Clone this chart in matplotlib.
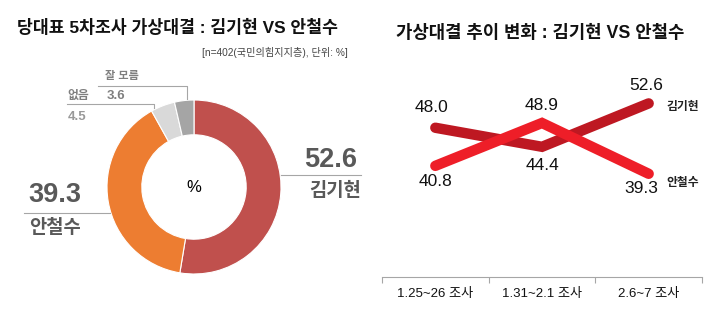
import matplotlib.pyplot as plt

plt.rcParams['font.family'] = ['Liberation Sans', 'Noto Sans CJK KR', 'DejaVu Sans']

# donut: 5th survey head-to-head
pie_labels = ['김기현', '안철수', '없음', '잘 모름']
pie_values = [52.6, 39.3, 4.5, 3.6]
pie_colors = ['#C0504D', '#ED7D31', '#D9D9D9', '#A5A5A5']

# trend across surveys
surveys = ['1.25~26 조사', '1.31~2.1 조사', '2.6~7 조사']
kim = [48.0, 44.4, 52.6]
ahn = [40.8, 48.9, 39.3]

W, H = 720, 328
fig = plt.figure(figsize=(W / 100, H / 100), dpi=100)

# ---- left: donut ----
cx, cy, r = 194, 187, 87
ax1 = fig.add_axes([(cx - 100) / W, (H - cy - 100) / H, 200 / W, 200 / H])
ax1.pie(pie_values, colors=pie_colors, startangle=90, counterclock=False,
        radius=1, wedgeprops=dict(width=0.4, edgecolor='white', linewidth=0.8))
ax1.set_xlim(-100 / r, 100 / r)
ax1.set_ylim(-100 / r, 100 / r)
ax1.set_aspect('equal')
ax1.axis('off')
ax1.text(0, 0, '%', ha='center', va='center', fontsize=12, color='black')

grey = '#595959'
lc = '#A6A6A6'
# 김기현
ax1.text(1.26, 0.31, f'{pie_values[0]:.1f}', ha='left', va='center',
         fontsize=19.5, fontweight='bold', color=grey, clip_on=False)
ax1.plot([1.0, 1.92], [0.14, 0.14], color=lc, lw=0.8, clip_on=False)
ax1.text(1.32, -0.04, pie_labels[0], ha='left', va='center',
         fontsize=13.5, fontweight='bold', color=grey, clip_on=False)
# 안철수
ax1.text(-1.90, -0.09, f'{pie_values[1]:.1f}', ha='left', va='center',
         fontsize=19.5, fontweight='bold', color=grey, clip_on=False)
ax1.plot([-1.95, -0.97], [-0.30, -0.30], color=lc, lw=0.8, clip_on=False)
ax1.text(-1.89, -0.47, pie_labels[1], ha='left', va='center',
         fontsize=13.5, fontweight='bold', color=grey, clip_on=False)
# 없음
ax1.text(-1.46, 1.05, pie_labels[2], ha='left', va='center',
         fontsize=8.5, fontweight='bold', color='#7F7F7F', clip_on=False)
ax1.plot([-1.46, -0.46, -0.46], [0.955, 0.955, 0.91], color=lc, lw=0.8,
         clip_on=False)
ax1.text(-1.45, 0.80, f'{pie_values[2]:.1f}', ha='left', va='center',
         fontsize=9.5, fontweight='bold', color='#999999', clip_on=False)
# 잘 모름
ax1.text(-1.02, 1.28, pie_labels[3], ha='left', va='center',
         fontsize=8, fontweight='bold', color='#7F7F7F', clip_on=False)
ax1.plot([-1.10, -0.08, -0.08], [1.16, 1.16, 1.01], color=lc, lw=0.8,
         clip_on=False)
ax1.text(-1.0, 1.05, f'{pie_values[3]:.1f}', ha='left', va='center',
         fontsize=9.5, fontweight='bold', color='#7F7F7F', clip_on=False)

fig.text(17 / W, 1 - 27 / H, '당대표 5차조사 가상대결 : 김기현 VS 안철수',
         ha='left', va='center', fontsize=12.4, fontweight='bold', color='#111111')
fig.text(348 / W, 1 - 52 / H, '[n=402(국민의힘지지층), 단위: %]',
         ha='right', va='center', fontsize=7.3, color='#444444')

# ---- right: trend lines ----
ax2 = fig.add_axes([382 / W, (H - 277) / H, 320 / W, 217 / H])
x = list(range(len(surveys)))
dark, bright = '#BE1822', '#EE1E28'
ax2.plot(x, kim, color=dark, lw=7.5, solid_capstyle='round',
         solid_joinstyle='miter', zorder=2)
ax2.plot(x, ahn, color=bright, lw=7.5, solid_capstyle='round',
         solid_joinstyle='miter', zorder=3)
ax2.set_xlim(-0.5, 2.5)
ax2.set_ylim(19.8, 60.8)

kim_off = [(-4, 20), (0, -19), (-2, 18)]
ahn_off = [(0, -16), (0, 17), (-7, -15)]
for i in x:
    ax2.annotate(f'{kim[i]:.1f}', (i, kim[i]), xytext=kim_off[i],
                 textcoords='offset pixels', ha='center', va='center',
                 fontsize=12.5, color='#111111')
    ax2.annotate(f'{ahn[i]:.1f}', (i, ahn[i]), xytext=ahn_off[i],
                 textcoords='offset pixels', ha='center', va='center',
                 fontsize=12.5, color='#111111')
ax2.text(2.17, 51.9, '김기현', ha='left', va='center', fontsize=8.5,
         fontweight='bold', color='#222222', clip_on=False)
ax2.text(2.17, 37.6, '안철수', ha='left', va='center', fontsize=8.5,
         fontweight='bold', color='#222222', clip_on=False)

for s in ['top', 'right', 'left']:
    ax2.spines[s].set_visible(False)
ax2.spines['bottom'].set_color('#A6A6A6')
ax2.spines['bottom'].set_linewidth(0.8)
ax2.set_yticks([])
ax2.set_xticks(x)
ax2.set_xticklabels(surveys, fontsize=9.5, color='#111111')
ax2.tick_params(axis='x', which='major', length=0, pad=8)
ax2.set_xticks([-0.5, 0.5, 1.5, 2.5], minor=True)
ax2.tick_params(axis='x', which='minor', length=4, width=0.8,
                color='#A6A6A6', direction='out')

fig.text(396 / W, 1 - 33 / H, '가상대결 추이 변화 : 김기현 VS 안철수',
         ha='left', va='center', fontsize=12.8, fontweight='bold', color='#111111')

fig.savefig('out.png', dpi=100, facecolor='white')
